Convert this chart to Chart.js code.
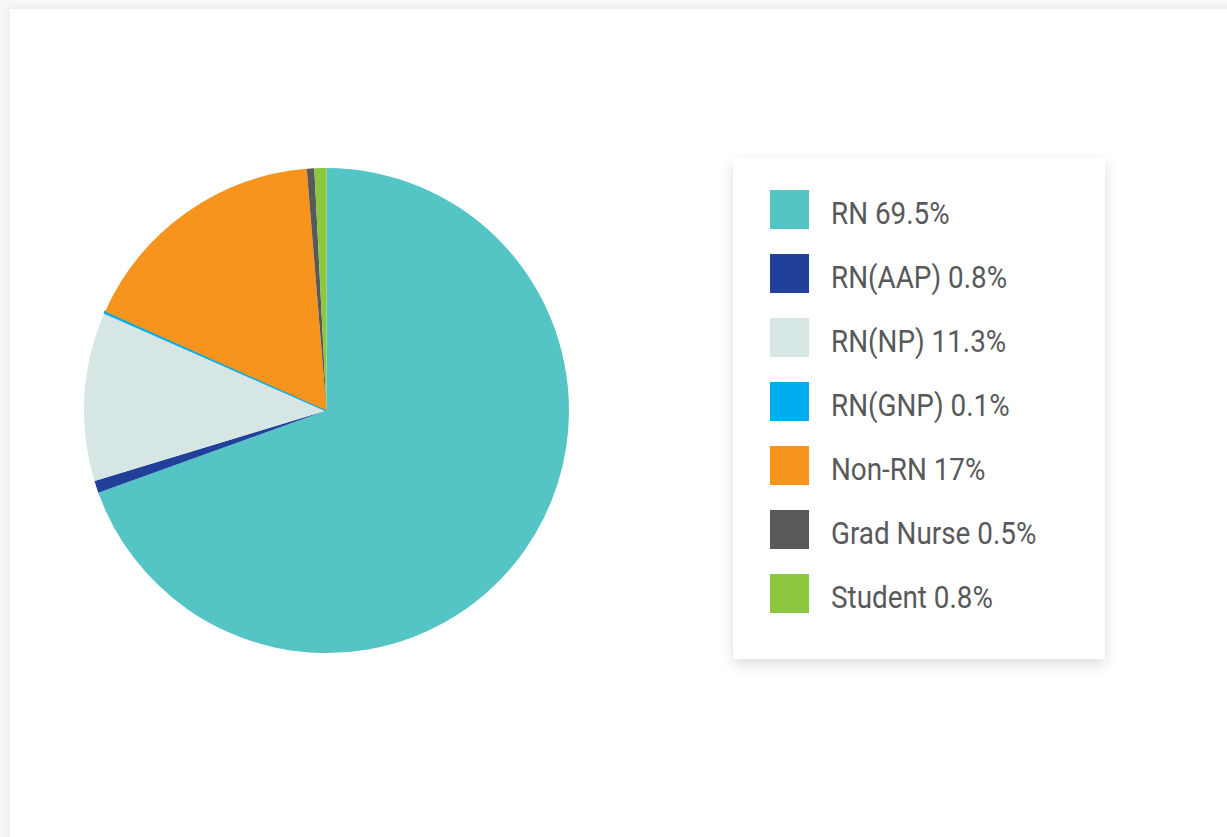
<!DOCTYPE html>
<html>
<head>
<meta charset="utf-8">
<script src="https://cdn.jsdelivr.net/npm/chart.js@4"></script>
<style>
  html, body { margin: 0; padding: 0; background: #f7f7f7; }
  body { width: 1227px; height: 837px; overflow: hidden; position: relative; }
  .card {
    position: absolute; left: 10px; top: 9px; width: 1240px; height: 860px;
    background: #fff; box-shadow: 0 0 8px rgba(0,0,0,0.08);
  }
  #pie-wrap { position: absolute; left: 83px; top: 167px; width: 487px; height: 487px; }
  .legend {
    position: absolute; left: 733px; top: 158px; width: 372px; height: 501px;
    background: #fff; box-shadow: 0 5px 14px rgba(0,0,0,0.14);
  }
  .legend .row { position: absolute; left: 37px; height: 39px; display: flex; align-items: center; }
  .legend .box { width: 39px; height: 39px; flex: none; }
  .legend .txt {
    margin-left: 22px; margin-top: 6px;
    font-family: "Roboto", sans-serif;
    font-size: 32px; color: #58595b; white-space: nowrap;
    display: inline-block; transform: scaleX(0.87); transform-origin: left center;
  }
</style>
</head>
<body>
<div class="card"></div>
<div id="pie-wrap"><canvas id="pie-chart" width="487" height="487"></canvas></div>
<div class="legend" id="legend"></div>
<script>
// pie-chart data
const categories = ['RN', 'RN(AAP)', 'RN(NP)', 'RN(GNP)', 'Non-RN', 'Grad Nurse', 'Student'];
const shares = [69.5, 0.8, 11.3, 0.1, 17, 0.5, 0.8];
const sliceColors = ['#55c4c5', '#21409a', '#d5e6e5', '#00aeef', '#f7941d', '#58595b', '#8dc63f'];

const chartCanvas = document.querySelector('#pie-chart');

const pieChart = new Chart(chartCanvas, {
  type: 'pie',
  data: {
    labels: categories,
    datasets: [
      {
        label: 'Share',
        data: shares,
        backgroundColor: sliceColors,
        borderColor: sliceColors,
        // thin slice gets a stroke so it stays visible
        borderWidth: [0, 0, 0, 2, 0, 0, 0],
      },
    ],
  },
  options: {
    responsive: false,
    animation: false,
    layout: { padding: 0 },
    plugins: {
      legend: { display: false },
      tooltip: { enabled: true },
    },
  },
});

// legend box built from the same arrays
const legendEl = document.querySelector('#legend');
categories.forEach(function (name, i) {
  const row = document.createElement('div');
  row.className = 'row';
  row.style.top = (32 + i * 64) + 'px';
  const box = document.createElement('div');
  box.className = 'box';
  box.style.background = sliceColors[i];
  const txt = document.createElement('span');
  txt.className = 'txt';
  txt.textContent = name + ' ' + shares[i] + '%';
  row.appendChild(box);
  row.appendChild(txt);
  legendEl.appendChild(row);
});
</script>
</body>
</html>
